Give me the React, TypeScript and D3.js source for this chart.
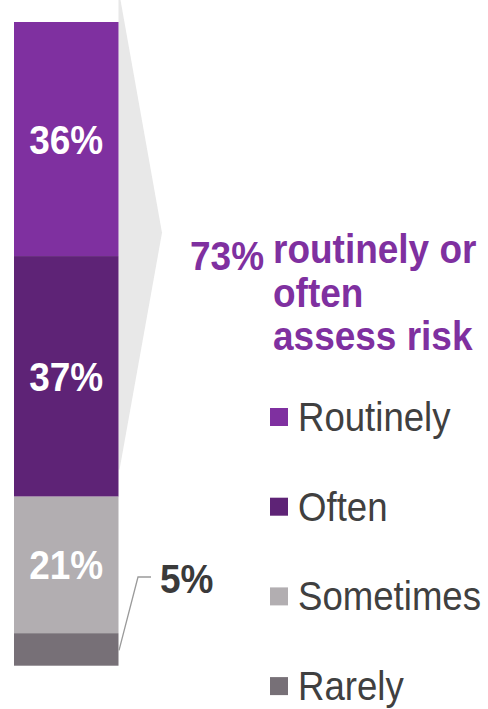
import React from "react";
import * as d3 from "d3";

const categories = ["Routinely", "Often", "Sometimes", "Rarely"];
const values = [36, 37, 21, 5];
const labels = ["36%", "37%", "21%", "5%"];
const colors = ["#7F30A0", "#5E2376", "#B2AEB1", "#777077"];
const headline = "73%";
const headlineLines = ["routinely or", "often", "assess risk"];

const W = 488;
const H = 709;
const FONT = "'Liberation Sans', Arial, sans-serif";
const SX = 0.925;
const SXL = 0.915;

export default function App() {
  const total = d3.sum(values);
  const y = d3.scaleLinear().domain([0, total]).range([22, 665.7]);
  const barX0 = 14;
  const barX1 = 118.5;
  const barCx = (barX0 + barX1) / 2;
  const stacked = values.map((v, i) => {
    const start = d3.sum(values.slice(0, i));
    return { cat: categories[i], v, start, end: start + v, color: colors[i], label: labels[i] };
  });
  const topShare = values[0] + values[1];

  // wedge (decorative bracket) spanning top two categories
  const wTop = y(0) - 22;
  const wBot = y(topShare) - 27;
  const wTip = (wTop + wBot) / 2 - 2;
  const wedge = `M${barX1},${wTop} L${barX1 + 2},${wTop} L162,${wTip} L${barX1 + 1},${wBot} L${barX1},${wBot} Z`;

  const rare = stacked[3];
  const rareMid = (y(rare.start) + y(rare.end)) / 2;

  const legendY0 = 431;
  const legendStep = 89.7;

  return (
    <svg width={W} height={H} style={{ position: "absolute", left: 0, top: 0 }}>
      <rect x={0} y={0} width={W} height={H} fill="#fff" />
      <path d={wedge} fill="#E8E8E8" />
      {stacked.map((s) => (
        <rect key={s.cat} x={barX0} y={y(s.start)} width={barX1 - barX0} height={y(s.end) - y(s.start)} fill={s.color} />
      ))}
      {stacked.slice(0, 3).map((s) => (
        <text
          key={s.cat + "l"}
          transform={`translate(${barCx},${(y(s.start) + y(s.end)) / 2 + 14.5}) scale(${SX},1)`}
          textAnchor="middle"
          fontFamily={FONT}
          fontWeight="bold"
          fontSize={40}
          fill="#fff"
        >
          {s.label}
        </text>
      ))}
      <polyline
        points={`${barX1 + 0.5},${rareMid + 1} 138,577 151,577`}
        fill="none"
        stroke="#9a9a9a"
        strokeWidth={1.3}
      />
      <text
        transform={`translate(160,593) scale(${SX},1)`}
        fontFamily={FONT}
        fontWeight="bold"
        fontSize={40}
        fill="#3a3a3a"
      >
        {rare.label}
      </text>
      <text
        transform={`translate(190,269.5) scale(${SX},1)`}
        fontFamily={FONT}
        fontWeight="bold"
        fontSize={40}
        fill="#7F30A0"
      >
        {headline}
      </text>
      {headlineLines.map((l, i) => (
        <text
          key={l}
          transform={`translate(273,${263 + i * 43.5}) scale(${SX},1)`}
          fontFamily={FONT}
          fontWeight="bold"
          fontSize={40}
          fill="#7F30A0"
        >
          {l}
        </text>
      ))}
      {categories.map((c, i) => (
        <g key={c + "leg"}>
          <rect x={270} y={legendY0 + i * legendStep - 23} width={18} height={18} fill={colors[i]} />
          <text
            transform={`translate(298,${legendY0 + i * legendStep}) scale(${SXL},1)`}
            fontFamily={FONT}
            fontSize={40}
            fill="#404040"
          >
            {c}
          </text>
        </g>
      ))}
    </svg>
  );
}
